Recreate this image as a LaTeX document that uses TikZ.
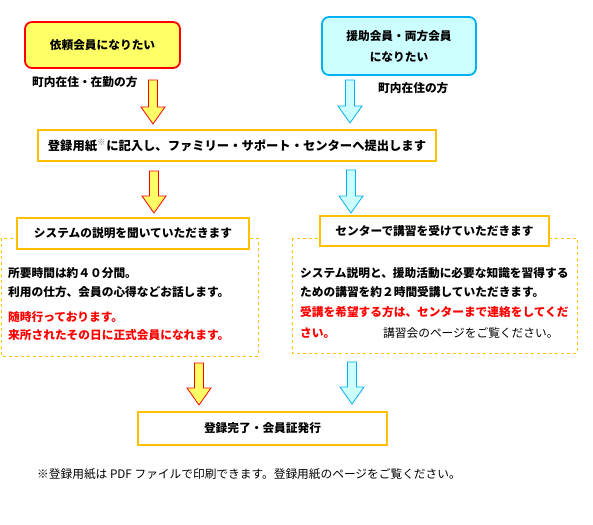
\documentclass[tikz,border=0pt]{standalone}
\usepackage{fontspec}
\newfontfamily\jp{Noto Sans CJK JP}
\usepackage{xcolor}
\definecolor{boxgold}{RGB}{255,192,0}
\definecolor{paleyellow}{RGB}{255,255,102}
\definecolor{paleblue}{RGB}{204,255,255}
\definecolor{skyline}{RGB}{0,176,240}
\tikzset{
  wish/.style={rounded corners=7pt,line width=1.8pt,align=center,inner sep=0pt,
    font=\jp\bfseries\fontsize{11.7}{21}\selectfont},
  goldbox/.style={draw=boxgold,line width=1.8pt,fill=white,inner sep=0pt,
    font=\jp\bfseries\fontsize{11.7}{14}\selectfont},
  dashbox/.style={draw=boxgold,dashed,line width=0.8pt},
  textline/.style={anchor=west,inner sep=0pt,font=\jp\bfseries\fontsize{11.7}{14}\selectfont},
  plainline/.style={anchor=west,inner sep=0pt,font=\jp\fontsize{11.7}{14}\selectfont},
  redarrow/.style={draw=red,fill=paleyellow,line width=0.8pt,line join=miter},
  bluearrow/.style={draw=skyline,fill=paleblue,line width=0.8pt,line join=miter}
}
% block arrow: style, centre x, top y, tip y
\newcommand{\flowarrow}[4]{%
  \draw[#1] (#2-4.5,#3) -- (#2+4.5,#3) -- (#2+4.5,#4-17) -- (#2+12,#4-17) -- (#2,#4)
    -- (#2-12,#4-17) -- (#2-4.5,#4-17) -- cycle;}

\begin{document}
\begin{tikzpicture}[x=1pt,y=-1pt]
  \useasboundingbox (0,0) rectangle (593,524);

  \node[wish,draw=red,fill=paleyellow,minimum width=155,minimum height=46] (client) at (102.5,45) {依頼会員になりたい};
  \node[wish,draw=skyline,fill=paleblue,minimum width=154,minimum height=58] (helper) at (399,46) {援助会員・両方会員\\になりたい};
  \node[textline] (clientnote) at (32,82) {町内在住・在勤の方};
  \node[textline] (helpernote) at (378,88) {町内在住の方};

  \flowarrow{redarrow}{153}{80}{124}
  \flowarrow{bluearrow}{350}{80}{123}

  \node[goldbox,minimum width=398,minimum height=31,font=\jp\bfseries\fontsize{12.3}{14}\selectfont] (form) at (237,145.5)
    {登録用紙{\color{black!55}\textsuperscript{※}}に記入し、ファミリー・サポート・センターへ提出します};

  \flowarrow{redarrow}{154}{171}{213}
  \flowarrow{bluearrow}{351}{170}{213}

  \draw[dashbox] (1,238) rectangle (258,356);
  \draw[dashbox] (292,238) rectangle (577,353);

  \node[goldbox,minimum width=232,minimum height=31] (explain) at (133,233.5) {システムの説明を聞いていただきます};
  \node[goldbox,minimum width=229,minimum height=30] (lecture) at (434.5,231) {センターで講習を受けていただきます};

  \node[textline] (l1) at (8,273) {所要時間は約４０分間。};
  \node[textline] (l2) at (8,292) {利用の仕方、会員の心得などお話します。};
  \node[textline,text=red] (l3) at (8,317) {随時行っております。};
  \node[textline,text=red] (l4) at (8,335) {来所されたその日に正式会員になれます。};

  \node[textline] (r1) at (300,273) {システム説明と、援助活動に必要な知識を習得する};
  \node[textline] (r2) at (300,292) {ための講習を約２時間受講していただきます。};
  \node[textline,text=red] (r3) at (300,312) {受講を希望する方は、センターまで連絡をしてくだ};
  \node[textline,text=red] (r4) at (300,333) {さい。};
  \node[plainline] (r5) at (383,333) {講習会のページをご覧ください。};

  \flowarrow{redarrow}{199}{363}{405}
  \flowarrow{bluearrow}{352}{362}{404}

  \node[goldbox,minimum width=249,minimum height=33] (done) at (262.5,428.5) {登録完了・会員証発行};

  \node[plainline] (footnote) at (37,474) {※登録用紙は PDF ファイルで印刷できます。登録用紙のページをご覧ください。};
\end{tikzpicture}
\end{document}
